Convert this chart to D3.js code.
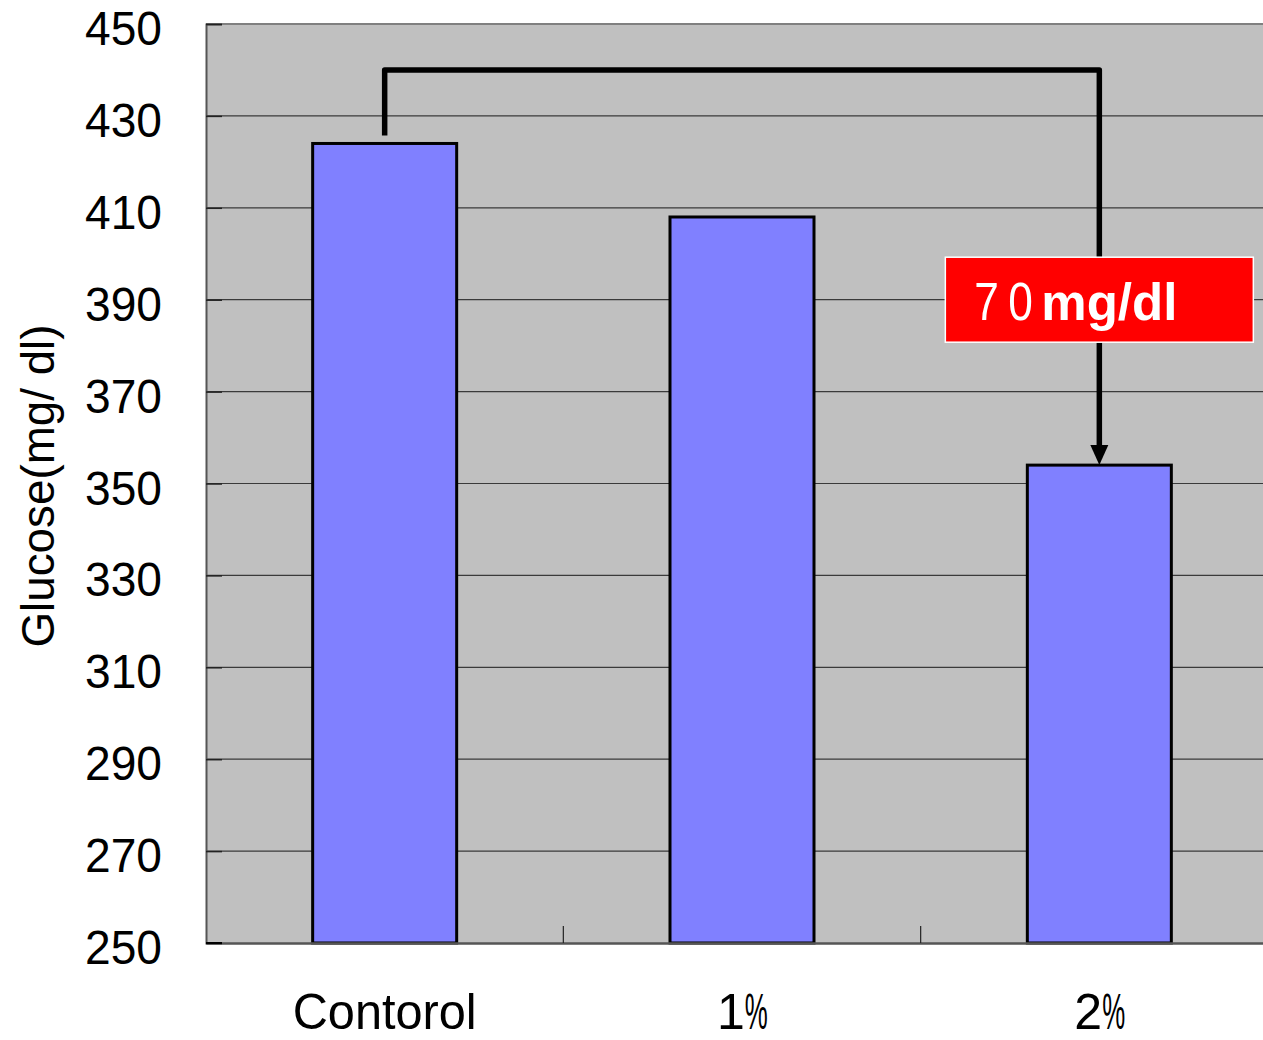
<!DOCTYPE html>
<html><head><meta charset="utf-8">
<script src="https://cdn.jsdelivr.net/npm/d3@7"></script>
<style>body{margin:0;background:#fff}svg{display:block}</style>
</head><body><svg id="c" width="1263" height="1040"></svg>
<script>
const categories = ["Contorol", "1%", "2%"];
const values = [424, 408, 354];
const yTicks = [250, 270, 290, 310, 330, 350, 370, 390, 410, 430, 450];
const bracketLevel = 440;
const labelLevel = 390;
const diffDigits = ["7", "0"];
const diffUnit = "mg/dl";

const svg = d3.select("#c");
const m = {l: 206, t: 24, r: 1278, b: 943};
const x = d3.scaleBand().domain(categories).range([m.l, m.r]).padding(0);
const y = d3.scaleLinear().domain([250, 450]).range([m.b, m.t]);
const font = "'Liberation Sans', Arial, sans-serif";

svg.append("rect").attr("x", m.l).attr("y", m.t).attr("width", m.r - m.l).attr("height", m.b - m.t).attr("fill", "#c0c0c0");

// gridlines
svg.append("g").selectAll("line").data(yTicks.filter(d => d > 250 && d < 450)).join("line")
  .attr("x1", m.l).attr("x2", m.r).attr("y1", d => y(d)).attr("y2", d => y(d))
  .attr("stroke", "#3a3a3a").attr("stroke-width", 1.2);

// top frame
svg.append("line").attr("x1", m.l).attr("x2", m.r).attr("y1", m.t).attr("y2", m.t).attr("stroke", "#808080").attr("stroke-width", 2);

// y axis
const yAxis = svg.append("g").attr("transform", `translate(${m.l},0)`)
  .call(d3.axisRight(y).tickValues(yTicks).tickSize(16).tickFormat(""));
yAxis.select(".domain").attr("stroke", "#555").attr("stroke-width", 2);
yAxis.selectAll(".tick line").attr("stroke", "#222").attr("stroke-width", 1.5);

svg.append("g").selectAll("text").data(yTicks).join("text")
  .attr("x", 162).attr("y", d => y(d) + 21).attr("text-anchor", "end")
  .attr("font-family", font).attr("font-size", 49).attr("fill", "#000")
  .attr("textLength", 77).attr("lengthAdjust", "spacingAndGlyphs").text(d => d);

// bars
const bw = x.bandwidth() * 0.403;
svg.append("g").selectAll("rect").data(values).join("rect")
  .attr("x", (d, i) => x(categories[i]) + x.bandwidth() / 2 - bw / 2)
  .attr("y", d => y(d)).attr("width", bw).attr("height", d => y(250) - y(d))
  .attr("fill", "#8080ff").attr("stroke", "#000").attr("stroke-width", 3);

// x axis
const xAxis = svg.append("g").attr("transform", `translate(0,${m.b})`)
  .call(d3.axisBottom(x).tickSize(0).tickFormat(""));
xAxis.select(".domain").attr("stroke", "#555").attr("stroke-width", 2.5);
svg.append("g").selectAll("line").data(categories.slice(1)).join("line")
  .attr("x1", d => x(d)).attr("x2", d => x(d)).attr("y1", m.b).attr("y2", m.b - 17)
  .attr("stroke", "#222").attr("stroke-width", 1.2);
svg.append("line").attr("x1", m.l).attr("x2", m.l + 16).attr("y1", m.b).attr("y2", m.b).attr("stroke", "#000").attr("stroke-width", 2);

const xl = svg.append("g").selectAll("text").data(categories).join("text")
  .attr("x", d => x(d) + x.bandwidth() / 2 - (d.endsWith("%") ? 25 : 0)).attr("y", 1029)
  .attr("text-anchor", d => d.endsWith("%") ? "start" : "middle")
  .attr("font-family", font).attr("font-size", 50).attr("fill", "#000");
xl.each(function(d) {
  const s = d3.select(this);
  if (d.endsWith("%")) {
    s.append("tspan").text(d.slice(0, -1));
    s.append("tspan").attr("textLength", 23).attr("lengthAdjust", "spacingAndGlyphs").text("%");
  } else {
    s.attr("textLength", 184).attr("lengthAdjust", "spacingAndGlyphs").text(d);
  }
});

// y label
svg.append("text").attr("transform", `translate(54,486) rotate(-90)`).attr("text-anchor", "middle")
  .attr("font-family", font).attr("font-size", 46).attr("fill", "#000")
  .attr("textLength", 323).attr("lengthAdjust", "spacingAndGlyphs")
  .text("Glucose(mg/ dl)");

// bracket
const cx0 = x(categories[0]) + x.bandwidth() / 2;
const cx2 = x(categories[2]) + x.bandwidth() / 2;
const yb = y(bracketLevel);
const yEnd = y(values[2]);
svg.append("path")
  .attr("d", `M${cx0},${y(values[0]) - 8} L${cx0},${yb} L${cx2},${yb} L${cx2},${yEnd - 16}`)
  .attr("fill", "none").attr("stroke", "#000").attr("stroke-width", 5.5).attr("stroke-linejoin", "round");
svg.append("path")
  .attr("d", `M${cx2 - 9},${yEnd - 20} L${cx2 + 9},${yEnd - 20} L${cx2},${yEnd} Z`)
  .attr("fill", "#000");

// label box
const ly = y(labelLevel);
svg.append("rect").attr("x", cx2 - 154).attr("y", ly - 42.5).attr("width", 308).attr("height", 85)
  .attr("fill", "#ff0000").attr("stroke", "#fff").attr("stroke-width", 1.5);
svg.append("g").selectAll("text").data(diffDigits).join("text")
  .attr("transform", (d, i) => `translate(${cx2 - 125 + i * 34},${ly + 20}) scale(0.82,1)`)
  .attr("font-family", font).attr("font-size", 54).attr("fill", "#fff").text(d => d);
svg.append("text").attr("x", cx2 - 58).attr("y", ly + 20)
  .attr("font-family", font).attr("font-size", 52).attr("font-weight", "bold").attr("fill", "#fff")
  .attr("textLength", 136).attr("lengthAdjust", "spacingAndGlyphs").text(diffUnit);
</script></body></html>
